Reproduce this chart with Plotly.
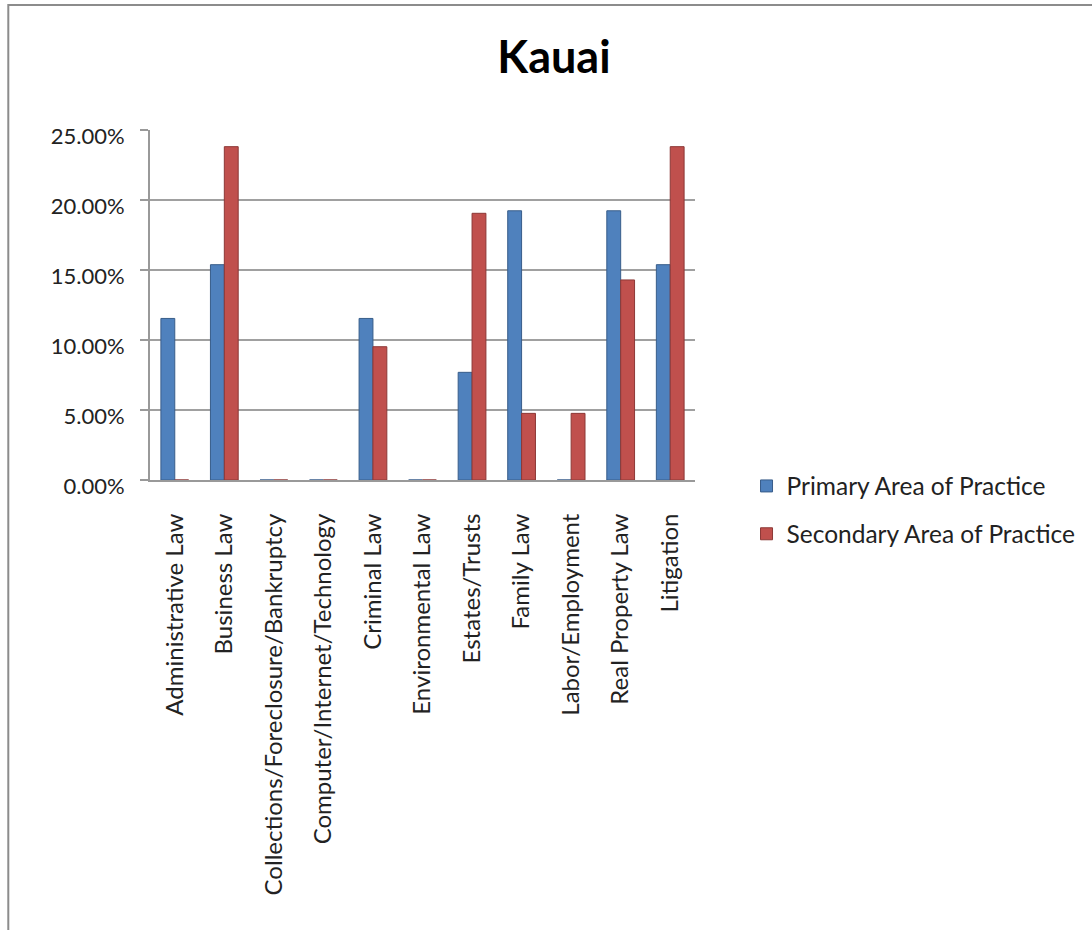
import plotly.graph_objects as go

categories = ["Administrative Law", "Business Law", "Collections/Foreclosure/Bankruptcy",
              "Computer/Internet/Technology", "Criminal Law", "Environmental Law",
              "Estates/Trusts", "Family Law", "Labor/Employment", "Real Property Law", "Litigation"]
primary = [0.1154, 0.1538, 0.0, 0.0, 0.1154, 0.0, 0.0769, 0.1923, 0.0, 0.1923, 0.1538]
secondary = [0.0, 0.2381, 0.0, 0.0, 0.0952, 0.0, 0.1905, 0.0476, 0.0476, 0.1429, 0.2381]
tick_vals = [0, 0.05, 0.10, 0.15, 0.20, 0.25]
tick_text = ["0.00%", "5.00%", "10.00%", "15.00%", "20.00%", "25.00%"]

FONT = "Lato"
fig = go.Figure()
fig.add_trace(go.Bar(x=categories, y=primary, name="Primary Area of Practice",
                     marker=dict(color="#4F81BD", line=dict(color="#385D8A", width=1)),
                     legendgroup="p"))
fig.add_trace(go.Bar(x=categories, y=secondary, name="Secondary Area of Practice",
                     marker=dict(color="#C0504D", line=dict(color="#8C3836", width=1)),
                     legendgroup="s"))

W, H = 1092, 930
L, R, T, B = 150, 392, 130, 450
PW, PH = W - L - R, H - T - B
fig.update_layout(
    width=W, height=H,
    paper_bgcolor="white", plot_bgcolor="white",
    margin=dict(l=L, r=R, t=T, b=B),
    barmode="group", bargap=0.44, bargroupgap=0,
    font=dict(family=FONT, color="#222222", size=20),
    title=dict(text="<b>Kauai</b>", x=554 / W, xref="container", y=1 - 57 / H, yref="container",
               xanchor="center", yanchor="middle", font=dict(size=45, color="black", family=FONT)),
    xaxis=dict(tickangle=-90, showline=True, linecolor="#999999", linewidth=2,
               showgrid=False, ticks="", tickfont=dict(size=24), ticklabelstandoff=22),
    yaxis=dict(range=[0, 0.25], tickvals=tick_vals, ticktext=tick_text,
               showgrid=True, gridcolor="#A0A0A0", gridwidth=2,
               showline=True, linecolor="#999999", linewidth=2,
               ticks="outside", ticklen=8, tickcolor="#999999", tickwidth=2,
               tickfont=dict(size=22), ticklabelstandoff=11, ticklabelshift=6,
               zeroline=False),
    legend=dict(x=(752 - L) / PW, xanchor="left", y=-(510 - (T + PH)) / PH, yanchor="middle",
                yref="paper", font=dict(size=24.5), tracegroupgap=13, itemwidth=30),
    shapes=[dict(type="rect", xref="paper", yref="paper",
                 x0=(7 - L) / PW, x1=(W + 20 - L) / PW,
                 y0=-(H + 20 - (T + PH)) / PH, y1=(T + PH - 5) / PH,
                 line=dict(color="#8C8C8C", width=2), layer="below")],
)
fig.write_html("out.html", config={"displayModeBar": False},
               post_script="document.body.style.margin='0px';")
